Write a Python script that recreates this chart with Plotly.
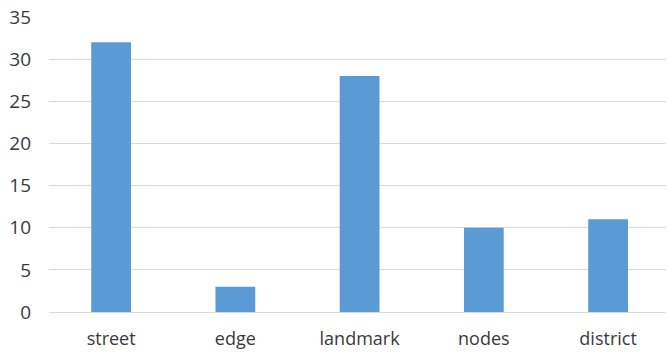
import plotly.graph_objects as go

categories = ["street", "edge", "landmark", "nodes", "district"]
counts = [32, 3, 28, 10, 11]
y_ticks = [0, 5, 10, 15, 20, 25, 30, 35]

fig = go.Figure(
    go.Bar(
        x=categories,
        y=counts,
        marker=dict(color="#5B9BD5", line=dict(width=0)),
        width=0.32,
    )
)

fig.update_layout(
    width=667,
    height=352,
    margin=dict(l=49, r=1, t=17, b=40),
    paper_bgcolor="white",
    plot_bgcolor="white",
    showlegend=False,
    font=dict(family="Open Sans, Liberation Sans, sans-serif", size=18, color="#3A3A3A"),
)

fig.update_xaxes(
    range=[-0.5, 4.466],
    showgrid=False,
    showline=False,
    ticks="",
    ticklabelstandoff=14,
    tickfont=dict(size=18, color="#3A3A3A"),
)

fig.update_yaxes(
    range=[0, 35],
    tickvals=y_ticks,
    showgrid=True,
    gridcolor="#D9D9D9",
    gridwidth=1,
    zeroline=True,
    zerolinecolor="#D9D9D9",
    zerolinewidth=1,
    ticks="",
    ticklabelstandoff=17,
    tickfont=dict(size=19, color="#3A3A3A"),
)

fig.write_html("out.html")
